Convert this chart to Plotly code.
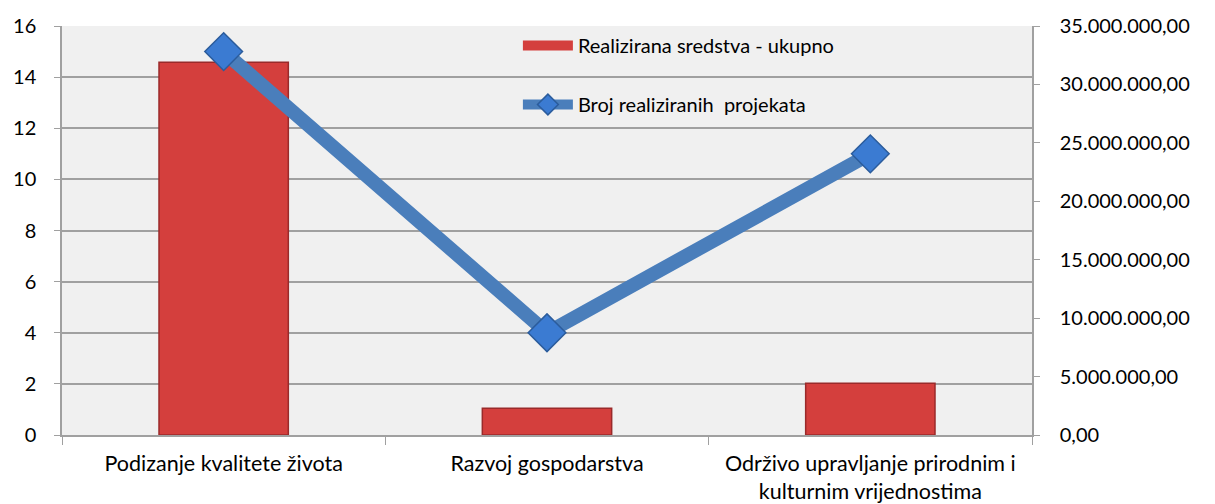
import plotly.graph_objects as go

categories = ["Podizanje kvalitete života", "Razvoj gospodarstva",
              "Održivo upravljanje prirodnim i<br>kulturnim vrijednostima"]
sredstva = [31900000, 2280000, 4420000]
projekti = [15, 4, 11]

left_ticks = [0, 2, 4, 6, 8, 10, 12, 14, 16]
right_tickvals = [0, 5e6, 10e6, 15e6, 20e6, 25e6, 30e6, 35e6]
right_ticktext = ["0,00", "5.000.000,00", "10.000.000,00", "15.000.000,00",
                  "20.000.000,00", "25.000.000,00", "30.000.000,00", "35.000.000,00"]

FONT = "Lato"
AX = "#A0A0A0"
BAR_RED = "#D43F3D"

fig = go.Figure()
fig.add_trace(go.Bar(
    x=categories, y=sredstva, name="Realizirana sredstva - ukupno",
    marker=dict(color=BAR_RED, line=dict(color="#9A2A2A", width=1.5)),
    width=0.4, yaxis="y", showlegend=False,
))
# legend swatch for bar series (wide rectangle as in reference)
fig.add_trace(go.Scatter(
    x=[None], y=[None], name="Realizirana sredstva - ukupno",
    mode="lines", line=dict(color=BAR_RED, width=12),
    yaxis="y", legendgroup="a",
))
fig.add_trace(go.Scatter(
    x=categories, y=projekti, name="Broj realiziranih  projekata",
    mode="lines+markers",
    line=dict(color="#4A7EBB", width=14),
    marker=dict(symbol="diamond", size=29, color="#3B7BD2",
                line=dict(color="#2B5C9C", width=1.5)),
    yaxis="y2", legendgroup="b",
))

fig.update_layout(
    width=1207, height=496,
    margin=dict(l=54, r=183, t=18, b=69, autoexpand=False),
    paper_bgcolor="white", plot_bgcolor="#F0F0F0",
    font=dict(family=FONT, size=20, color="#000000"),
    showlegend=True,
    legend=dict(x=0.470, y=1.0, xanchor="left", yanchor="top",
                bgcolor="rgba(0,0,0,0)", traceorder="grouped",
                tracegroupgap=30, font=dict(size=20), itemwidth=50),
    xaxis=dict(showline=True, linecolor=AX, linewidth=1.5, ticks="outside",
               tickson="boundaries", ticklen=8, tickcolor=AX, automargin=False,
               tickfont=dict(size=21.5), ticklabelstandoff=8),
    yaxis=dict(side="right", range=[0, 35e6], tickvals=right_tickvals,
               ticktext=right_ticktext, showgrid=False, zeroline=False,
               showline=True, linecolor=AX, linewidth=1.5, ticks="outside",
               ticklen=6, tickcolor=AX, ticklabelstandoff=16, automargin=False),
    yaxis2=dict(overlaying="y", side="left", range=[0, 16], tickvals=left_ticks,
                showgrid=True, gridcolor=AX, gridwidth=1.5, zeroline=False,
                showline=True, linecolor=AX, linewidth=1.5, ticks="outside",
                ticklen=6, tickcolor=AX, ticklabelstandoff=14, automargin=False),
    bargap=0.6,
)

fig.write_html("out.html")
